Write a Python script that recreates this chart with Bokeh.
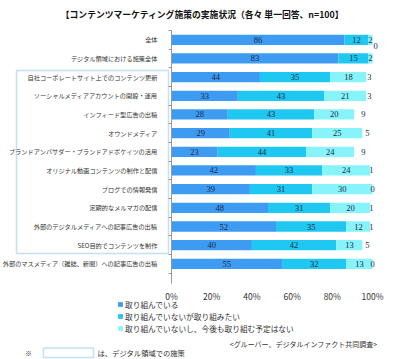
import numpy as np
from bokeh.plotting import figure
from bokeh.models import (ColumnDataSource, FixedTicker, Range1d, Legend, LegendItem,
                          BoxAnnotation)
from bokeh.core.properties import value
from bokeh.embed import file_html
from bokeh.resources import INLINE

title_text = "【コンテンツマーケティング施策の実施状況（各々 単一回答、n=100】"
categories = [
    "全体",
    "デジタル領域における施策全体",
    "自社コーポレートサイト上でのコンテンツ更新",
    "ソーシャルメディアアカウントの開設・運用",
    "インフィード型広告の出稿",
    "オウンドメディア",
    "ブランドアンバサダー・ブランドアドボケイツの活用",
    "オリジナル動画コンテンツの制作と配信",
    "ブログでの情報発信",
    "定期的なメルマガの配信",
    "外部のデジタルメディアへの記事広告の出稿",
    "SEO目的でコンテンツを制作",
    "外部のマスメディア（雑誌、新聞）への記事広告の出稿",
]
doing = [86, 83, 44, 33, 28, 29, 23, 42, 39, 48, 52, 40, 55]
want = [12, 15, 35, 43, 43, 41, 44, 33, 31, 31, 35, 42, 32]
no_plan = [2, 2, 18, 21, 20, 25, 24, 24, 30, 20, 12, 13, 13]
other = [0, 0, 3, 3, 9, 5, 9, 1, 0, 1, 1, 5, 0]
other_shown = [True, False, True, True, True, True, True, True, True, True, True, True, True]
series_names = ["取り組んでいる", "取り組んでいないが取り組みたい", "取り組んでいないし、今後も取り組む予定はない"]
x_ticks = [0, 20, 40, 60, 80, 100]
source_note = "<グルーバー、デジタルインファクト共同調査>"
foot_note = "は、デジタル領域での施策"

colors = ["#3D9BF2", "#1EC8F0", "#86F4FA", "#FFFFFF"]
JP = "Noto Sans CJK JP"

W, H = 400, 359
OFF = 0                                 # page offset of the canvas
# page-pixel layout helpers
X0_PX, X100_PX = 171.0, 372.0          # where 0% and 100% fall
ROW0_PX, ROW_STEP = 39.3, 18.67         # first row centre and row pitch
ppx = (X100_PX - X0_PX) / 100.0


def px2x(px):
    return (px - X0_PX) / ppx


def px2y(py):
    return (py - ROW0_PX) / ROW_STEP


idx = list(range(len(categories)))
src = ColumnDataSource(dict(y=idx, s1=doing, s2=want, s3=no_plan, s4=other))

p = figure(width=W, height=H, output_backend="svg", toolbar_location=None,
           x_range=Range1d(px2x(OFF), px2x(OFF + W)), y_range=Range1d(px2y(OFF + H), px2y(OFF)),
           min_border=0)
p.outline_line_color = None
p.xgrid.visible = False
p.ygrid.visible = False

renderers = p.hbar_stack(["s1", "s2", "s3", "s4"], y="y", height=0.55, color=colors,
                         line_color=None, source=src)

# value labels
vals = np.array([doing, want, no_plan, other], dtype=float)
cum = np.cumsum(vals, axis=0)
centers = cum - vals / 2
lx, ly, lt, lxo, lyo = [], [], [], [], []
for s in range(4):
    for i in idx:
        if s == 3 and not other_shown[i]:
            continue
        lx.append(centers[s, i])
        ly.append(i)
        lt.append(str(int(vals[s, i])))
        crowded = s == 3 and vals[s, i] == 0 and vals[2, i] < 3
        lxo.append(3 if crowded else 0)
        lyo.append(6 if crowded else 0)
lsrc = ColumnDataSource(dict(x=lx, y=ly, t=lt, xo=lxo, yo=lyo))
p.text(x="x", y="y", text="t", x_offset="xo", y_offset="yo", source=lsrc,
       text_align="center", text_baseline="middle", text_font=value("Liberation Serif"),
       text_font_size="8.5px", text_color="#1b2a4a")

# axes, placed inside the frame
y_bottom = px2y(283)
y_top = px2y(30)
p.yaxis.fixed_location = 0
p.yaxis.bounds = (y_top, y_bottom)
p.yaxis.ticker = FixedTicker(ticks=idx, minor_ticks=[i - 0.5 for i in range(14)])
p.yaxis.major_label_overrides = {i: c for i, c in enumerate(categories)}
p.yaxis.major_label_text_font = JP
p.yaxis.major_label_text_font_size = "6.2px"
p.yaxis.major_label_text_color = "#333333"
p.yaxis.major_label_standoff = 8
p.yaxis.major_tick_line_color = None
p.yaxis.minor_tick_out = 3
p.yaxis.minor_tick_in = 0
p.yaxis.minor_tick_line_color = "#999999"
p.yaxis.axis_line_color = "#999999"

p.xaxis.fixed_location = y_bottom
p.xaxis.bounds = (0, 100)
p.xaxis.ticker = FixedTicker(ticks=x_ticks, minor_ticks=[])
p.xaxis.major_label_overrides = {t: f"{t}%" for t in x_ticks}
p.xaxis.major_label_text_font = JP
p.xaxis.major_label_text_font_size = "8.5px"
p.xaxis.major_label_text_color = "#333333"
p.xaxis.major_label_standoff = 0
p.xaxis.axis_line_color = None
p.xaxis.major_tick_line_color = None

# legend (screen units from frame bottom-left)
items = [LegendItem(label=series_names[k], renderers=[renderers[k]]) for k in range(3)]
leg = Legend(items=items, location=(117 - OFF, OFF + H - 334), orientation="vertical",
             glyph_width=6, glyph_height=6, label_height=12, label_standoff=2,
             spacing=0, padding=0, margin=0, border_line_color=None,
             background_fill_alpha=0, label_text_font=JP, label_text_font_size="7.7px",
             label_text_color="#333333")
p.add_layout(leg, "center")

# title and notes
p.text(x=[px2x(202)], y=[px2y(14)], text=[title_text], text_align="center",
       text_baseline="middle", text_font=value(JP), text_font_size="8.8px",
       text_font_style="bold", text_color="#111111")
p.text(x=[px2x(377)], y=[px2y(343)], text=[source_note], text_align="right",
       text_baseline="middle", text_font=value(JP), text_font_size="7px",
       text_color="#333333")
p.text(x=[px2x(28)], y=[px2y(352)], text=["※"], text_align="center",
       text_baseline="middle", text_font=value(JP), text_font_size="7px",
       text_color="#333333")
p.text(x=[px2x(97)], y=[px2y(352)], text=[foot_note], text_align="left",
       text_baseline="middle", text_font=value(JP), text_font_size="7.3px",
       text_color="#333333")

box_color = "#3A9AD9"
p.add_layout(BoxAnnotation(left=px2x(16), right=px2x(168), top=px2y(70), bottom=px2y(253),
                           fill_alpha=0, line_color=box_color, line_width=1.5))
p.add_layout(BoxAnnotation(left=px2x(43), right=px2x(93), top=px2y(347.5), bottom=px2y(357),
                           fill_alpha=0, line_color=box_color, line_width=1.5))

open("out.html", "w").write(file_html(p, INLINE))
